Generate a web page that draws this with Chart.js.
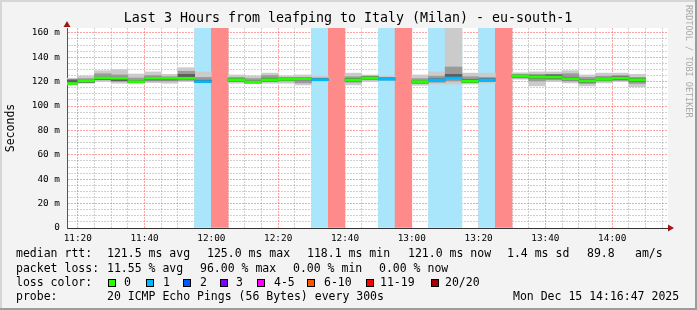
<!DOCTYPE html>
<html lang="en">
<head>
<meta charset="UTF-8">
<title>Last 3 Hours from leafping to Italy (Milan)</title>
<script src="https://cdn.jsdelivr.net/npm/chart.js@4.4.1/dist/chart.umd.min.js"></script>
<style>
    body { margin: 0; background: #f3f3f3; }
    #wrap { width: 697px; height: 310px; }
</style>
</head>
<body>
<div id="wrap"><canvas id="myChart" width="697" height="310"></canvas></div>
<script>
// each step is 5 minutes, label = end of the step
var steps = ['11:20','11:25','11:30','11:35','11:40','11:45','11:50','11:55',
    '12:00','12:05','12:10','12:15','12:20','12:25','12:30','12:35','12:40','12:45','12:50','12:55',
    '13:00','13:05','13:10','13:15','13:20','13:25','13:30','13:35','13:40','13:45','13:50','13:55',
    '14:00','14:05','14:10'];
// median rtt (ms), null where nearly all pings were lost
var median = [118.4,120.6,123.0,122.8,120.0,122.8,122.8,122.8,
    120.0,null,121.6,119.7,121.6,121.9,122.4,121.6,null,121.5,123.0,122.0,
    null,120.0,121.4,123.0,120.3,121.4,null,124.7,123.8,123.8,122.4,120.6,
    121.9,122.8,121.6];
// lost pings out of 20
var lost = [0,0,0,0,0,0,0,0,
    1,19.2,0,0,0,0,0,1,19.2,0,0,1,
    19.2,0,1,1,0,1,19.2,0,0,0,0,0,
    0,0,0];
// smoke: fastest / slowest ping
var pingMin = [117.3,118.7,120.0,118.7,118.7,119.2,118.7,120.0,
    118.7,null,118.7,119.0,118.7,118.7,117.3,120.0,null,117.3,120.0,121.6,
    null,117.0,118.0,118.0,118.0,118.7,null,122.0,116.5,120.0,119.0,116.5,
    119.0,120.0,115.7];
var pingMax = [122.8,124.7,129.0,130.0,126.3,128.0,126.0,131.4,
    128.0,null,125.5,124.7,127.0,124.7,125.5,124.7,null,127.0,125.5,124.7,
    null,125.5,128.0,170.0,127.0,127.0,null,127.3,128.0,128.0,129.0,125.5,
    127.0,127.0,126.0];
// smoke: inner band
var pingLo = [118.0,119.5,121.5,120.5,119.5,120.5,120.5,121.0,
    119.5,null,120.0,119.5,120.0,120.5,119.0,120.8,null,119.5,121.5,121.8,
    null,118.5,119.5,120.5,119.5,120.0,null,123.0,120.5,121.5,120.5,118.5,
    120.5,121.0,118.5];
var pingHi = [121.8,122.5,126.5,125.5,123.0,125.0,124.0,128.5,
    123.5,null,123.5,122.5,125.0,123.5,123.5,123.0,null,124.0,124.5,123.5,
    null,122.5,124.5,132.0,124.0,123.5,null,126.0,126.0,126.0,126.5,123.5,
    124.5,125.0,123.5];
// smoke: darkest pings next to the median
var darkLo = [119.6,119.4,121.6,120.6,119.2,121.4,121.4,122.0,
    119.4,null,120.6,118.8,120.6,121.0,121.4,120.8,null,120.6,122.2,121.4,
    null,119.0,120.6,122.4,119.4,120.6,null,123.8,122.8,122.8,121.4,119.6,
    121.0,121.6,120.4];
var darkHi = [121.4,121.2,123.6,122.0,120.8,123.6,123.4,126.0,
    121.2,null,122.4,120.6,122.8,122.8,123.0,122.4,null,122.6,124.0,123.0,
    null,120.6,122.4,126.0,121.6,122.4,null,125.4,124.8,125.6,123.6,121.6,
    122.8,124.0,122.6];

var lossNames = ['0','1','2','3','4-5','6-10','11-19','20/20'];
var lossColors = ['#26ff00','#00b8ff','#0059ff','#7e00ff','#ff00ff','#ff5500','#ff0000','#a10000'];
var lossBg = {1: '#aae6fb', 19.2: '#ff8a8a'};

var yMax = 164;
var tStart = 11 * 60 + 16.78;   // 11:16:47
var tEnd = 14 * 60 + 16.7;
var mono = '"DejaVu Sans Mono", monospace';

function toMin(s) {
    var p = s.split(':');
    return +p[0] * 60 + +p[1];
}
function hhmm(v) {
    var h = Math.floor(v / 60), m = Math.round(v % 60);
    return (h < 10 ? '0' : '') + h + ':' + (m < 10 ? '0' : '') + m;
}
function lossColor(n) {
    if (n <= 0) return lossColors[0];
    if (n <= 1) return lossColors[1];
    if (n <= 2) return lossColors[2];
    if (n <= 3) return lossColors[3];
    if (n <= 5) return lossColors[4];
    if (n <= 10) return lossColors[5];
    if (n < 20) return lossColors[6];
    return lossColors[7];
}

function band(lo, hi) {
    var out = [];
    steps.forEach(function (s, i) {
        if (lo[i] == null) return;
        out.push({x: toMin(s) - 2.5, y: [lo[i], hi[i]]});
    });
    return out;
}

var medData = [], medCols = [], bgData = [], bgCols = [];
steps.forEach(function (s, i) {
    var x = toMin(s) - 2.5;
    if (lost[i] > 0) {
        bgData.push({x: x, y: [0, yMax]});
        bgCols.push(lossBg[lost[i]]);
    }
    if (median[i] != null) {
        medData.push({x: x, y: [median[i] - 0.8, median[i] + 0.8]});
        medCols.push(lossColor(lost[i]));
    }
});

var barBase = {grouped: false, barPercentage: 1, categoryPercentage: 1, borderWidth: 0};

var deco = {
    id: 'deco',
    beforeDraw: function (chart) {
        var ctx = chart.ctx, a = chart.chartArea;
        ctx.save();
        ctx.fillStyle = '#f3f3f3';
        ctx.fillRect(0, 0, chart.width, chart.height);
        ctx.fillStyle = '#ffffff';
        ctx.fillRect(a.left, a.top, a.right - a.left, a.bottom - a.top);
        ctx.restore();
    },
    afterDraw: function (chart) {
        var ctx = chart.ctx, a = chart.chartArea;
        ctx.save();
        // frame
        ctx.fillStyle = '#d6d6d6';
        ctx.fillRect(0, 0, chart.width, 2);
        ctx.fillRect(0, 0, 2, chart.height);
        ctx.fillStyle = '#9c9c9c';
        ctx.fillRect(chart.width - 2, 0, 2, chart.height);
        ctx.fillRect(0, chart.height - 2, chart.width, 2);

        // title
        ctx.fillStyle = '#000';
        ctx.font = '13.3px ' + mono;
        ctx.textAlign = 'center';
        ctx.textBaseline = 'middle';
        ctx.fillText('Last 3 Hours from leafping to Italy (Milan) - eu-south-1', 348, 19);
        ctx.textAlign = 'left';

        // axis arrows
        ctx.fillStyle = '#a01818';
        ctx.beginPath();
        ctx.moveTo(a.left - 3.5, a.top - 1);
        ctx.lineTo(a.left + 3.5, a.top - 1);
        ctx.lineTo(a.left, a.top - 7);
        ctx.closePath();
        ctx.fill();
        ctx.beginPath();
        ctx.moveTo(a.right + 0, a.bottom - 3.5);
        ctx.lineTo(a.right + 0, a.bottom + 3.5);
        ctx.lineTo(a.right + 6, a.bottom);
        ctx.closePath();
        ctx.fill();

        // watermark
        ctx.save();
        ctx.translate(688, 5);
        ctx.rotate(Math.PI / 2);
        ctx.fillStyle = '#a8a8a8';
        ctx.font = '8.5px ' + mono;
        ctx.textBaseline = 'middle';
        ctx.fillText('RRDTOOL / TOBI OETIKER', 0, 0);
        ctx.restore();

        // legend rows
        ctx.fillStyle = '#000';
        ctx.font = '11.5px ' + mono;
        ctx.textBaseline = 'middle';
        var rows = [
            [254, [[16, 'median rtt:'], [107, '121.5 ms avg'], [207, '125.0 ms max'], [307, '118.1 ms min'],
                   [408, '121.0 ms now'], [507, '1.4 ms sd'], [587, '89.8'], [635, 'am/s']]],
            [269, [[16, 'packet loss:'], [107, '11.55 % avg'], [200, '96.00 % max'], [293, '0.00 % min'],
                   [379, '0.00 % now']]],
            [283, [[16, 'loss color:']]],
            [297, [[16, 'probe:'], [107, '20 ICMP Echo Pings (56 Bytes) every 300s'], [513, 'Mon Dec 15 14:16:47 2025']]]
        ];
        rows.forEach(function (r) {
            r[1].forEach(function (t) { ctx.fillText(t[1], t[0], r[0]); });
        });
        var boxX = [108, 146, 183, 220, 257, 307, 366, 431];
        var labX = [124, 163, 200, 236, 274, 324, 380, 445];
        lossNames.forEach(function (n, i) {
            ctx.fillStyle = lossColors[i];
            ctx.fillRect(boxX[i], 279, 8, 8);
            ctx.strokeStyle = '#000';
            ctx.lineWidth = 1;
            ctx.strokeRect(boxX[i] + 0.5, 279.5, 7, 7);
            ctx.fillStyle = '#000';
            ctx.fillText(n, labX[i], 283);
        });
        ctx.restore();
    }
};

Chart.defaults.font.family = mono;

new Chart(document.getElementById('myChart'), {
    type: 'bar',
    data: {
        datasets: [
            Object.assign({label: 'median', data: medData, backgroundColor: medCols, order: 0}, barBase),
            Object.assign({label: 'dark', data: band(darkLo, darkHi), backgroundColor: '#5e5e5e', order: 1}, barBase),
            Object.assign({label: 'inner', data: band(pingLo, pingHi), backgroundColor: '#9a9a9a', order: 2}, barBase),
            Object.assign({label: 'smoke', data: band(pingMin, pingMax), backgroundColor: '#cbcbcb', order: 3}, barBase),
            Object.assign({label: 'loss', data: bgData, backgroundColor: bgCols, order: 4}, barBase)
        ]
    },
    options: {
        responsive: false,
        devicePixelRatio: 1,
        animation: false,
        layout: {padding: {top: 28, right: 29, left: 0, bottom: 0}},
        plugins: {
            legend: {display: false},
            tooltip: {enabled: false}
        },
        scales: {
            x: {
                type: 'linear',
                min: tStart,
                max: tEnd,
                offset: false,
                z: 1,
                grid: {
                    offset: false,
                    drawTicks: false,
                    color: function (c) {
                        return c.tick && Math.round(c.tick.value) % 20 === 0 ? 'rgba(255,90,90,0.55)' : 'rgba(150,150,150,0.45)';
                    }
                },
                border: {color: '#333', width: 1, dash: [2, 1]},
                ticks: {
                    stepSize: 5,
                    includeBounds: false,
                    autoSkip: false,
                    maxRotation: 0,
                    padding: 5,
                    color: '#000',
                    font: {family: mono, size: 9.4},
                    callback: function (v) { return Math.round(v) % 20 === 0 ? hhmm(v) : ''; }
                },
                afterFit: function (s) { s.height = 82; }
            },
            y: {
                min: 0,
                max: yMax,
                z: 1,
                grid: {
                    drawTicks: false,
                    color: function (c) {
                        return c.tick && c.tick.value % 20 === 0 ? 'rgba(255,90,90,0.55)' : 'rgba(150,150,150,0.45)';
                    }
                },
                border: {color: '#555', width: 1, dash: [2, 1]},
                ticks: {
                    stepSize: 5,
                    includeBounds: false,
                    autoSkip: false,
                    padding: 7,
                    color: '#000',
                    font: {family: mono, size: 9.4},
                    callback: function (v) { return v === 0 ? '0' : (v % 20 === 0 ? v + ' m' : ''); }
                },
                title: {
                    display: true,
                    text: 'Seconds',
                    color: '#000',
                    font: {family: mono, size: 11.5},
                    padding: {top: 4, bottom: 0}
                },
                afterFit: function (s) { s.width = 67; }
            }
        }
    },
    plugins: [deco]
});
</script>
</body>
</html>
